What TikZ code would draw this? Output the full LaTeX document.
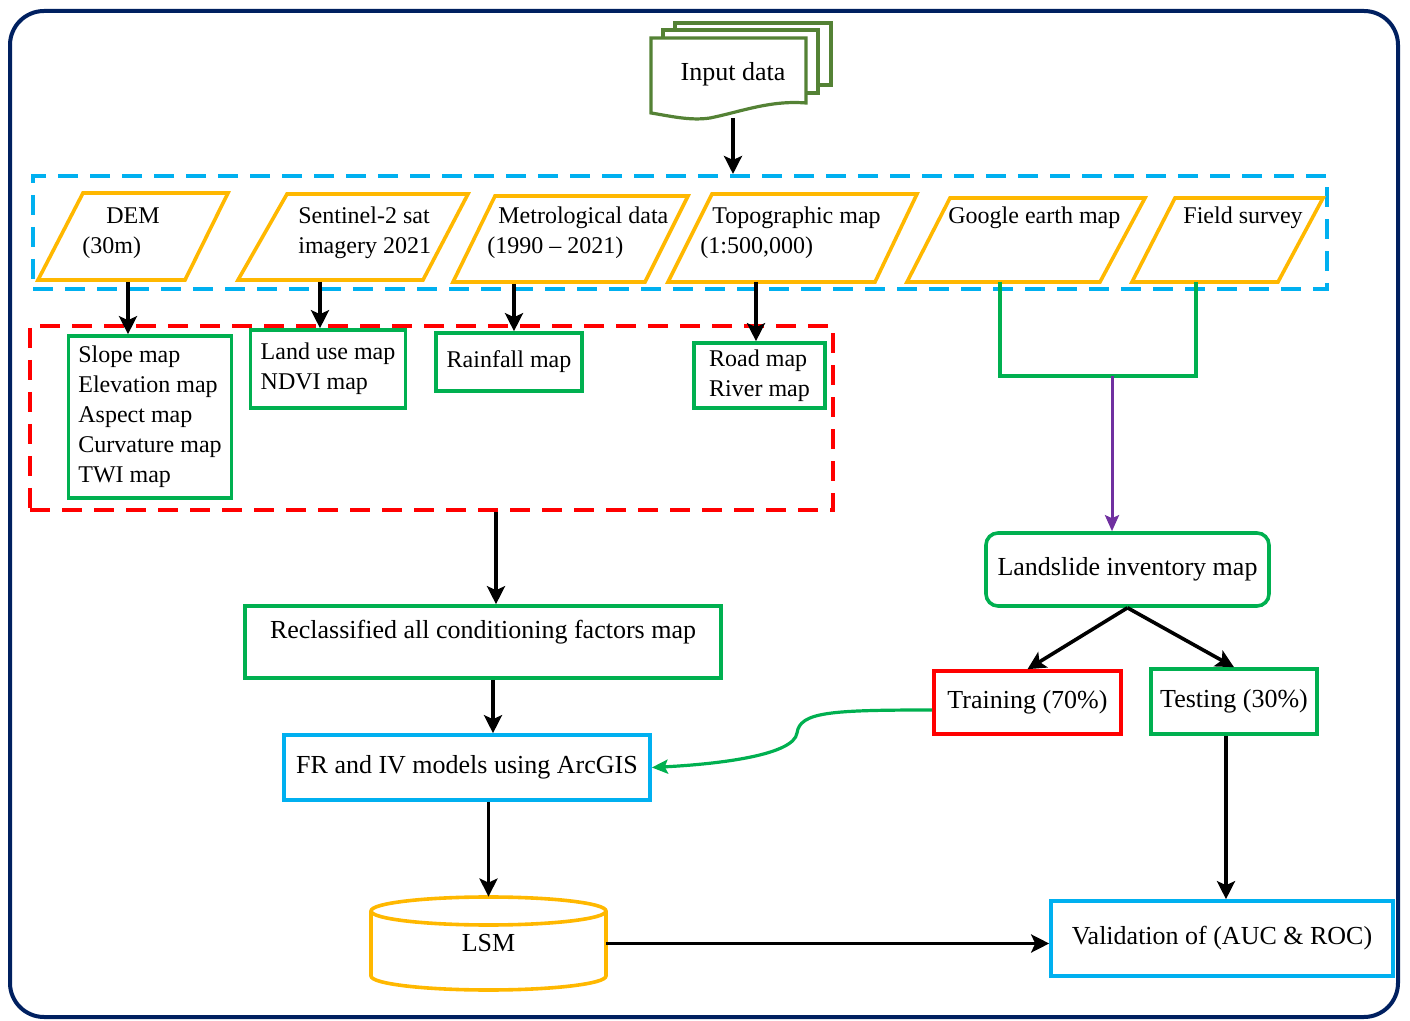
\documentclass[tikz,border=0pt]{standalone}
\usepackage{fontspec}
\setmainfont{Liberation Serif}
\usepackage{xcolor}
\usepackage{tikz}
\usetikzlibrary{
    arrows.meta,
    positioning
}
\definecolor{framenavy}{RGB}{0,32,96}
\definecolor{docgreen}{RGB}{84,130,53}
\definecolor{srcyellow}{RGB}{255,184,0}
\definecolor{mapgreen}{RGB}{0,176,80}
\definecolor{grpblue}{RGB}{0,176,240}
\definecolor{grpred}{RGB}{255,0,0}
\definecolor{mergepurple}{RGB}{112,48,160}
\tikzstyle{outerframe} = [
    draw=framenavy,
    line width=2pt,
    rounded corners=17pt
]
\tikzstyle{docline} = [
    draw=docgreen,
    line width=1.6pt,
    fill=white
]
\tikzstyle{groupbox} = [
    rectangle,
    line width=2pt,
    dash pattern=on 10pt off 6pt,
    inner sep=0pt
]
\tikzstyle{srcshape} = [
    draw=srcyellow,
    line width=1.8pt,
    fill=white
]
\tikzstyle{srctext} = [
    anchor=west,
    align=left,
    inner sep=0pt,
    font=\fontsize{12}{15}\selectfont
]
\tikzstyle{mapbox} = [
    rectangle, draw=mapgreen,
    line width=1.8pt,
    fill=white,
    align=left,
    inner xsep=5pt,
    inner ysep=2pt,
    font=\fontsize{12}{15}\selectfont
]
\tikzstyle{stepbox} = [
    rectangle, draw,
    line width=1.8pt,
    fill=white,
    align=center,
    inner sep=3pt
]
\tikzstyle{cyl} = [
    draw=srcyellow,
    line width=1.8pt
]
\tikzstyle{arrow} = [
    line width=1.8pt,
    -{Stealth[length=9pt, width=9pt, inset=2pt]}
]

\begin{document}
\begin{tikzpicture}[
        x=0.5pt, y=-0.5pt,
        font=\fontsize{13}{15.5}\selectfont
    ]
    \useasboundingbox (0,0) rectangle (1410,1021);
    \draw[outerframe] (10,11) rectangle (1398,1017);

    % input data stack
    \draw[docline] (675,23) rectangle (831,85);
    \draw[docline] (663,30) rectangle (818,93);
    \draw[docline] (651,38) -- (806,38) -- (806,103)
        .. controls (770,100) and (740,112) .. (710,118)
        .. controls (690,121) and (670,116) .. (651,113) -- cycle;
    \node (input) at (733,74) {Input data};
    \coordinate (inbot) at (733,118);

    \node[groupbox, draw=grpblue, minimum width=647pt, minimum height=56.5pt] (srcgrp) at (680,232.5) {};
    \node[groupbox, draw=grpred, minimum width=401.5pt, minimum height=92pt] (procgrp) at (431.5,418) {};

    \draw[srcshape] (38,280) -- (83,193) -- (228,193) -- (185,280) -- cycle;
    \draw[srcshape] (238,280) -- (287,194) -- (468,194) -- (423,280) -- cycle;
    \draw[srcshape] (453,282) -- (495,196) -- (688,196) -- (645,282) -- cycle;
    \draw[srcshape] (668,282) -- (712,194) -- (917,194) -- (875,282) -- cycle;
    \draw[srcshape] (907,282) -- (950,198) -- (1145,198) -- (1100,282) -- cycle;
    \draw[srcshape] (1132,282) -- (1175,198) -- (1323,198) -- (1278,282) -- cycle;

    \node[srctext] (dem) at (82,233) {\quad DEM\\(30m)};
    \node[srctext] (sent) at (298,233) {Sentinel-2 sat\\imagery 2021};
    \node[srctext] (meteo) at (487,233) {\hspace{5.5pt}Metrological data\\(1990 – 2021)};
    \node[srctext] (topo) at (700,233) {\hspace{6pt}Topographic map\\(1:500,000)};
    \node[srctext] (google) at (948,218) {Google earth map};
    \node[srctext] (field) at (1183,218) {Field survey};

    \coordinate (demb) at (128,282);
    \coordinate (sentb) at (320,282);
    \coordinate (meteob) at (514,284);
    \coordinate (topob) at (756,282);
    \coordinate (googleb) at (1000,282);
    \coordinate (fieldb) at (1196,282);
    \coordinate (merge) at (1112,376);

    \node[mapbox, minimum width=80pt, minimum height=81pt] (slope) at (150,417)
        {Slope map\\Elevation map\\Aspect map\\Curvature map\\TWI map};
    \node[mapbox, minimum width=77pt, minimum height=39pt] (landuse) at (328,369)
        {Land use map\\NDVI map};
    \node[mapbox, minimum width=73pt, minimum height=29pt] (rain) at (509,362)
        {Rainfall map};
    \node[mapbox, minimum width=65.5pt, minimum height=32.5pt] (road) at (759.5,375.5)
        {Road map\\River map};

    \node[stepbox, draw=mapgreen, minimum width=238pt, minimum height=36pt,
        text height=10pt, text depth=13pt] (reclass) at (483,642)
        {Reclassified all conditioning factors map};
    \node[stepbox, draw=grpblue, minimum width=183pt, minimum height=32.5pt] (fr) at (467,767.5)
        {FR and IV models using ArcGIS};
    \node[stepbox, draw=mapgreen, rounded corners=6pt, minimum width=141.5pt, minimum height=36.5pt] (land) at (1127.5,569.5)
        {Landslide inventory map};
    \node[stepbox, draw=grpred, minimum width=93.5pt, minimum height=31.5pt] (train) at (1027.5,702.5)
        {Training (70\%)};
    \node[stepbox, draw=mapgreen, minimum width=83pt, minimum height=32.5pt] (test) at (1234,701.5)
        {Testing (30\%)};
    \node[stepbox, draw=grpblue, minimum width=171pt, minimum height=37.5pt] (val) at (1222,938.5)
        {Validation of (AUC \& ROC)};

    \draw[cyl, fill=white] (371,911) -- (371,976)
        arc[start angle=180, end angle=360, x radius=58.75pt, y radius=7pt] -- (606,911)
        arc[start angle=0, end angle=180, x radius=58.75pt, y radius=7pt] -- cycle;
    \draw[cyl] (371,911) arc[start angle=180, end angle=360, x radius=58.75pt, y radius=7pt];
    \node[minimum width=117.5pt, minimum height=46.5pt, inner sep=0pt] (lsm) at (488.5,943.5) {LSM};

    \coordinate (recin) at ([xshift=6.5pt]reclass.north);
    \coordinate (recout) at ([xshift=5pt]reclass.south);
    \coordinate (testout) at ([xshift=-4pt]test.south);

    \draw[arrow] (inbot) -- (inbot |- srcgrp.north);
    \draw[arrow] (demb) -- (demb |- slope.north);
    \draw[arrow] (sentb) -- (sentb |- landuse.north);
    \draw[arrow] (meteob) -- (meteob |- rain.north);
    \draw[arrow] (topob) -- (topob |- road.north);
    \draw[draw=mapgreen, line width=1.8pt] (googleb) |- (merge) -| (fieldb);
    \draw[draw=mergepurple, line width=1.5pt, -{Stealth[length=8pt, width=7pt, inset=1.5pt]}]
        (merge) -- (merge |- land.north);
    \draw[arrow] (land.south) -- (train.north);
    \draw[arrow] (land.south) -- (test.north);
    \draw[draw=mapgreen, line width=1.6pt, -{Stealth[length=8pt, width=7pt, inset=1.5pt]}]
        ([yshift=-3.75pt]train.west) .. controls (830,710) and (800,712) .. (797,733)
        .. controls (794,755) and (720,764) .. (fr.east);
    \draw[arrow] (recin |- procgrp.south) -- (recin);
    \draw[arrow] (recout) -- (recout |- fr.north);
    \draw[arrow] (lsm.north |- fr.south) -- (lsm.north);
    \draw[arrow] (lsm.east) -- (lsm.east -| val.west);
    \draw[arrow] (testout) -- (testout |- val.north);
\end{tikzpicture}
\end{document}
